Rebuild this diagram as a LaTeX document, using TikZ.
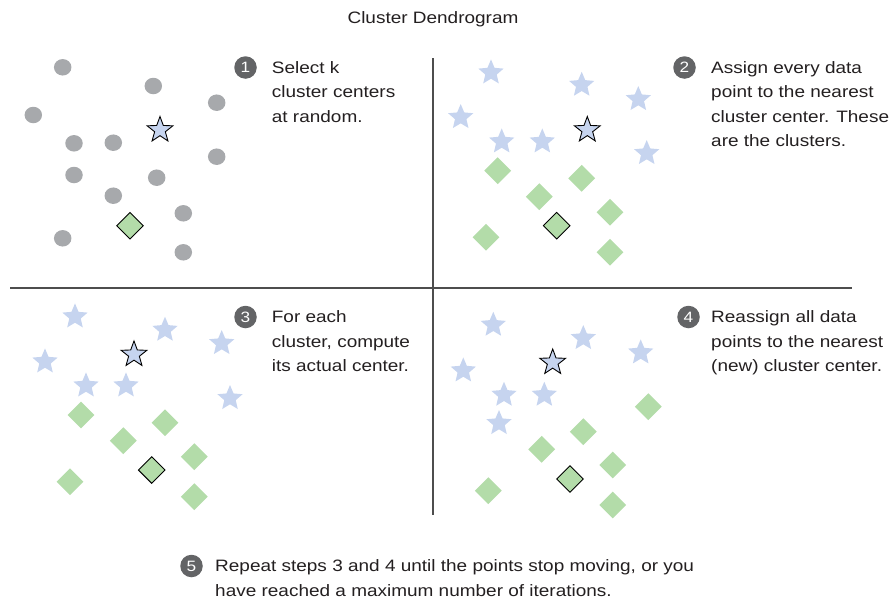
\documentclass[tikz,border=0pt]{standalone}
\usepackage{fontspec}
\setmainfont{Liberation Sans}[FakeStretch=1.15]
\usetikzlibrary{shapes.geometric}
\definecolor{dotgray}{HTML}{A7A9AC}
\definecolor{starblue}{HTML}{C6D4EF}
\definecolor{diagreen}{HTML}{B3DCA9}
\definecolor{badgegray}{HTML}{636466}
\definecolor{txt}{HTML}{231F20}
\definecolor{rule}{HTML}{4D4D4D}
\tikzset{
  dot/.style={ellipse,fill=dotgray,inner sep=0pt,minimum width=17.5pt,minimum height=16.5pt},
  lstar/.style={star,star points=5,star point ratio=2.2,fill=starblue,inner sep=0pt,minimum size=26.5pt},
  cstar/.style={star,star points=5,star point ratio=2.4,fill=starblue,draw=black,line width=0.9pt,inner sep=0pt,minimum size=27pt},
  ldia/.style={diamond,fill=diagreen,inner sep=0pt,minimum size=27pt},
  cdia/.style={diamond,fill=diagreen,draw=black,line width=0.9pt,inner sep=0pt,minimum size=27pt},
  badge/.style={circle,fill=badgegray,text=white,inner sep=0pt,minimum size=22.5pt,font=\fontsize{15}{15}\selectfont},
  stepnote/.style={anchor=base west,align=left,text=txt,inner sep=0pt,font=\fontsize{16.5}{24.5}\selectfont},
  divider/.style={draw=rule,line width=1.2pt}
}
\begin{document}
\begin{tikzpicture}[x=1pt,y=-1pt]
\useasboundingbox (0,0) rectangle (889,600);
% title
\node[anchor=base,text=txt,inner sep=0pt,font=\fontsize{16.5}{20}\selectfont] (title) at (433,23) {Cluster Dendrogram};
% dividers
\coordinate (vtop) at (433,58);
\coordinate (vbot) at (433,515);
\coordinate (hl) at (10,288);
\coordinate (hr) at (852,288);
\draw[divider] (vtop) -- (vbot);
\draw[divider] (hl) -- (hr);
% ---------- quadrant 1
\node[dot] (a1) at (62.7,67.3) {};
\node[dot] (a2) at (153.3,86) {};
\node[dot] (a3) at (216.7,102.7) {};
\node[dot] (a4) at (33.3,115) {};
\node[dot] (a5) at (74,143.3) {};
\node[dot] (a6) at (113.3,142.7) {};
\node[dot] (a7) at (216.7,156.7) {};
\node[dot] (a8) at (74,175) {};
\node[dot] (a9) at (156.7,177.7) {};
\node[dot] (a10) at (113.3,195.7) {};
\node[dot] (a11) at (183.3,213.3) {};
\node[dot] (a12) at (62.7,238.3) {};
\node[dot] (a13) at (183.3,252.3) {};
\node[cstar] (as) at (160,130) {};
\node[cdia] (ad) at (130,225.7) {};
\node[badge] (b1) at (245.5,67.5) {1};
\node[stepnote] (t1) at (271.7,122.3) {Select k\\cluster centers\\at random.};
% ---------- quadrant 2
\node[lstar] (b_s1) at (491,72.7) {};
\node[lstar] (b_s2) at (581.7,85) {};
\node[lstar] (b_s3) at (638.3,99.3) {};
\node[lstar] (b_s4) at (460.7,117.3) {};
\node[lstar] (b_s5) at (501.7,141.7) {};
\node[lstar] (b_s6) at (542.3,141.7) {};
\node[lstar] (b_s7) at (646.7,153.3) {};
\node[cstar] (b_cs) at (587.3,130) {};
\node[ldia] (b_d1) at (497.7,170.7) {};
\node[ldia] (b_d2) at (581.7,178.3) {};
\node[ldia] (b_d3) at (539.3,196.7) {};
\node[ldia] (b_d4) at (610,212.3) {};
\node[ldia] (b_d5) at (486,237.3) {};
\node[ldia] (b_d6) at (610,252.3) {};
\node[cdia] (b_cd) at (556.7,225.7) {};
\node[badge] (b2) at (684.5,67.5) {2};
\node[stepnote] (t2) at (711,146.8) {Assign every data\\point to the nearest\\cluster center. These\\are the clusters.};
% ---------- quadrant 3
\node[lstar] (c_s1) at (75,316.7) {};
\node[lstar] (c_s2) at (165,330) {};
\node[lstar] (c_s3) at (221.7,343.3) {};
\node[lstar] (c_s4) at (45,361.7) {};
\node[lstar] (c_s5) at (86,385.7) {};
\node[lstar] (c_s6) at (126,385.7) {};
\node[lstar] (c_s7) at (230,398.3) {};
\node[cstar] (c_cs) at (134,354.5) {};
\node[ldia] (c_d1) at (81,415) {};
\node[ldia] (c_d2) at (165,422.7) {};
\node[ldia] (c_d3) at (123.3,440.7) {};
\node[ldia] (c_d4) at (194.3,456.7) {};
\node[ldia] (c_d5) at (70,481.7) {};
\node[ldia] (c_d6) at (194.3,496.7) {};
\node[cdia] (c_cd) at (151.7,470) {};
\node[badge] (b3) at (245.5,317) {3};
\node[stepnote] (t3) at (271.7,371.8) {For each\\cluster, compute\\its actual center.};
% ---------- quadrant 4
\node[lstar] (d_s1) at (493.3,325) {};
\node[lstar] (d_s2) at (583.3,338.3) {};
\node[lstar] (d_s3) at (640.7,352.7) {};
\node[lstar] (d_s4) at (463.3,370.7) {};
\node[lstar] (d_s5) at (504,395) {};
\node[lstar] (d_s6) at (544.3,395) {};
\node[lstar] (d_s7) at (499,423.3) {};
\node[cstar] (d_cs) at (552.7,362.5) {};
\node[ldia] (d_d1) at (648.3,406.7) {};
\node[ldia] (d_d2) at (583.3,431.7) {};
\node[ldia] (d_d3) at (541.7,449.3) {};
\node[ldia] (d_d4) at (612.7,465) {};
\node[ldia] (d_d5) at (488.3,490.7) {};
\node[ldia] (d_d6) at (612.7,505) {};
\node[cdia] (d_cd) at (570,479) {};
\node[badge] (b4) at (688.5,317) {4};
\node[stepnote] (t4) at (711,371.8) {Reassign all data\\points to the nearest\\(new) cluster center.};
% ---------- step 5
\node[badge] (b5) at (191.5,566) {5};
\node[stepnote] (t5) at (215,596.3) {Repeat steps 3 and 4 until the points stop moving, or you\\have reached a maximum number of iterations.};
\end{tikzpicture}
\end{document}
